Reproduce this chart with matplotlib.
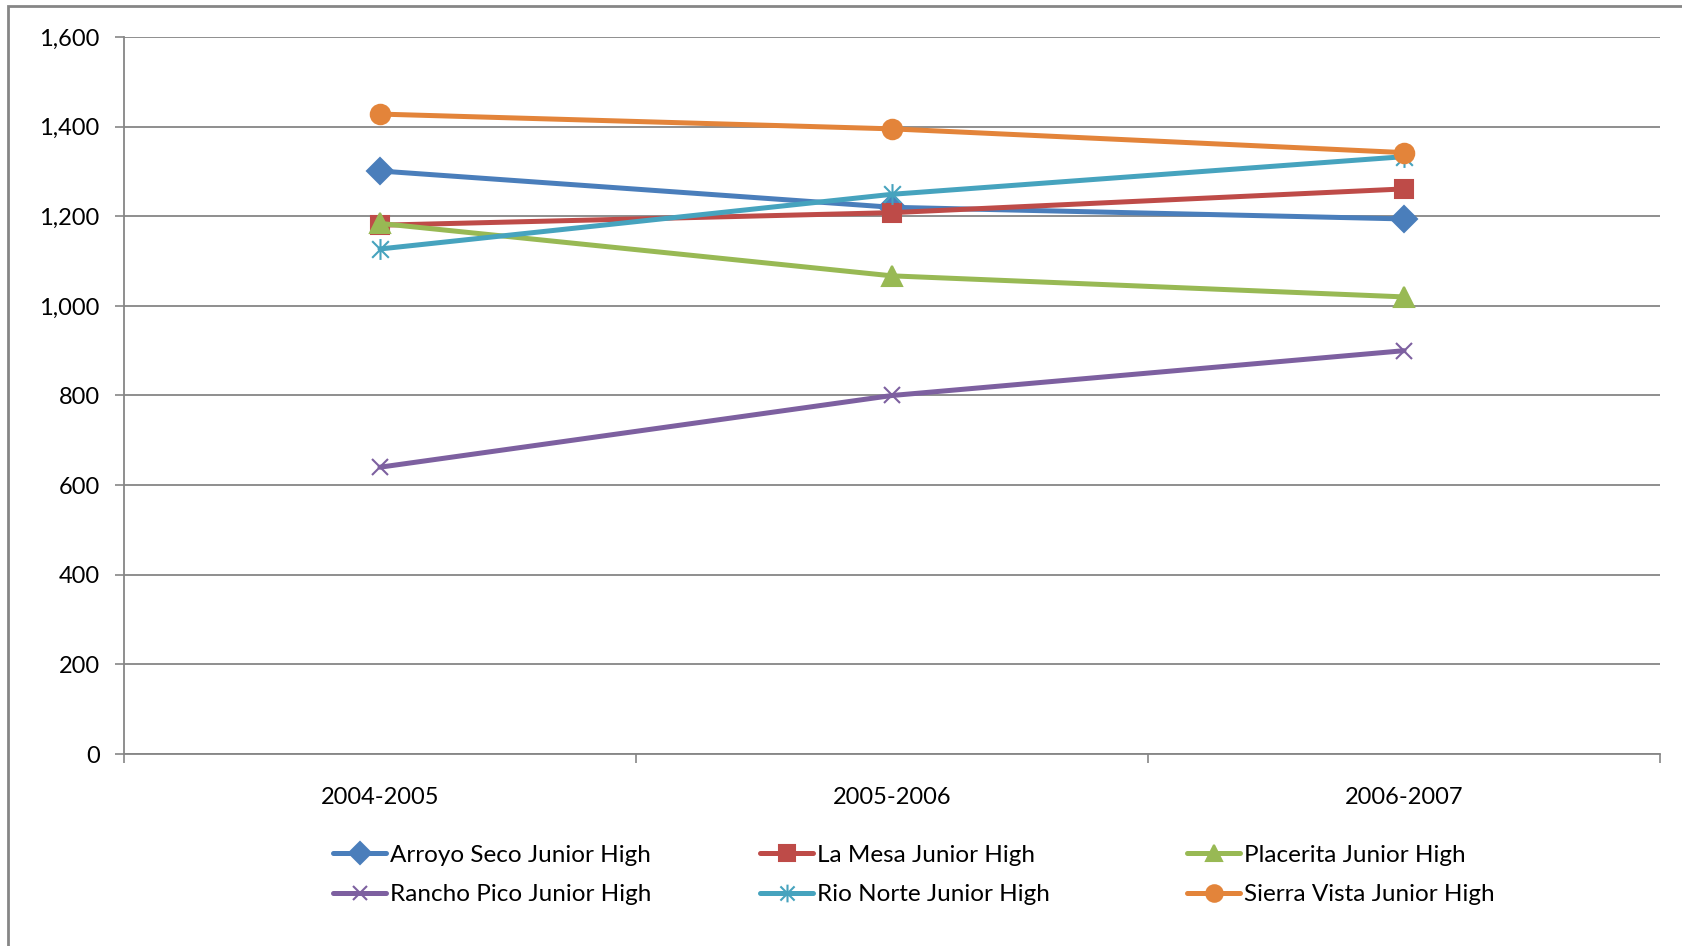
import matplotlib.pyplot as plt
from matplotlib.patches import Rectangle
from matplotlib.path import Path
from matplotlib.ticker import FuncFormatter

plt.rcParams['font.family'] = ['Lato', 'DejaVu Sans']

# data
years = ['2004-2005', '2005-2006', '2006-2007']
arroyo_seco = [1301, 1220, 1194]
la_mesa = [1180, 1208, 1261]
placerita = [1184, 1067, 1020]
rancho_pico = [640, 800, 900]
rio_norte = [1127, 1249, 1333]
sierra_vista = [1428, 1395, 1342]

# excel style star: vertical bar plus an x
star = Path([(0, -1), (0, 1), (-0.8, -0.8), (0.8, 0.8), (-0.8, 0.8), (0.8, -0.8)],
            [Path.MOVETO, Path.LINETO] * 3)

series = [
    ('Arroyo Seco Junior High', arroyo_seco, '#4A7EBB', 'D', 13),
    ('La Mesa Junior High', la_mesa, '#BE4B48', 's', 13),
    ('Placerita Junior High', placerita, '#98B954', '^', 14),
    ('Rancho Pico Junior High', rancho_pico, '#7D60A0', 'x', 12),
    ('Rio Norte Junior High', rio_norte, '#46A3BE', star, 15),
    ('Sierra Vista Junior High', sierra_vista, '#E3843A', 'o', 14),
]

fig = plt.figure(figsize=(16.82, 9.46), dpi=100)
ax = fig.add_axes([124 / 1682, 1 - 754 / 946, (1660 - 124) / 1682, (754 - 37) / 946])

x = list(range(len(years)))
handles = []
for name, vals, col, mk, ms in series:
    h, = ax.plot(x, vals, color=col, lw=3.6, marker=mk, markersize=ms,
                 markeredgecolor=col, markerfacecolor=col, markeredgewidth=1.5,
                 label=name, solid_capstyle='round', zorder=3)
    handles.append(h)

ax.set_xlim(-0.5, 2.5)
ax.set_ylim(0, 1600)
ax.set_yticks(range(0, 1601, 200))
ax.yaxis.set_major_formatter(FuncFormatter(lambda v, p: f'{int(v):,}'))
ax.set_xticks(x)
ax.set_xticklabels(years)
ax.set_xticks([-0.5, 0.5, 1.5, 2.5], minor=True)
ax.tick_params(axis='x', which='major', length=0, pad=24, labelsize=17)
ax.tick_params(axis='x', which='minor', length=6.5, width=1.2, color='#868686', direction='out')
ax.tick_params(axis='y', length=6.5, width=1.2, color='#868686', pad=11, labelsize=17)

ax.grid(axis='y', color='#868686', lw=1.3)
ax.set_axisbelow(True)
for s in ['top', 'right']:
    ax.spines[s].set_visible(False)
for s in ['left', 'bottom']:
    ax.spines[s].set_color('#868686')
    ax.spines[s].set_linewidth(1.3)

# legend, three columns placed separately
col_x = [333, 760, 1187]
for i, cx in enumerate(col_x):
    hs = [handles[i], handles[i + 3]]
    fig.legend(hs, [h.get_label() for h in hs], loc='center left',
               bbox_to_anchor=(cx / 1682, 1 - 875 / 946), frameon=False,
               fontsize=17.5, handlelength=2.2, handletextpad=0.15,
               labelspacing=0.75, borderpad=0, borderaxespad=0,
               markerscale=0.85)

fig.patches.append(Rectangle((8 / 1682, -0.05), 1.1, 1 - 6 / 946 + 0.05,
                             transform=fig.transFigure, fill=False,
                             edgecolor='#868686', lw=2))

fig.savefig('out.png', dpi=100)
